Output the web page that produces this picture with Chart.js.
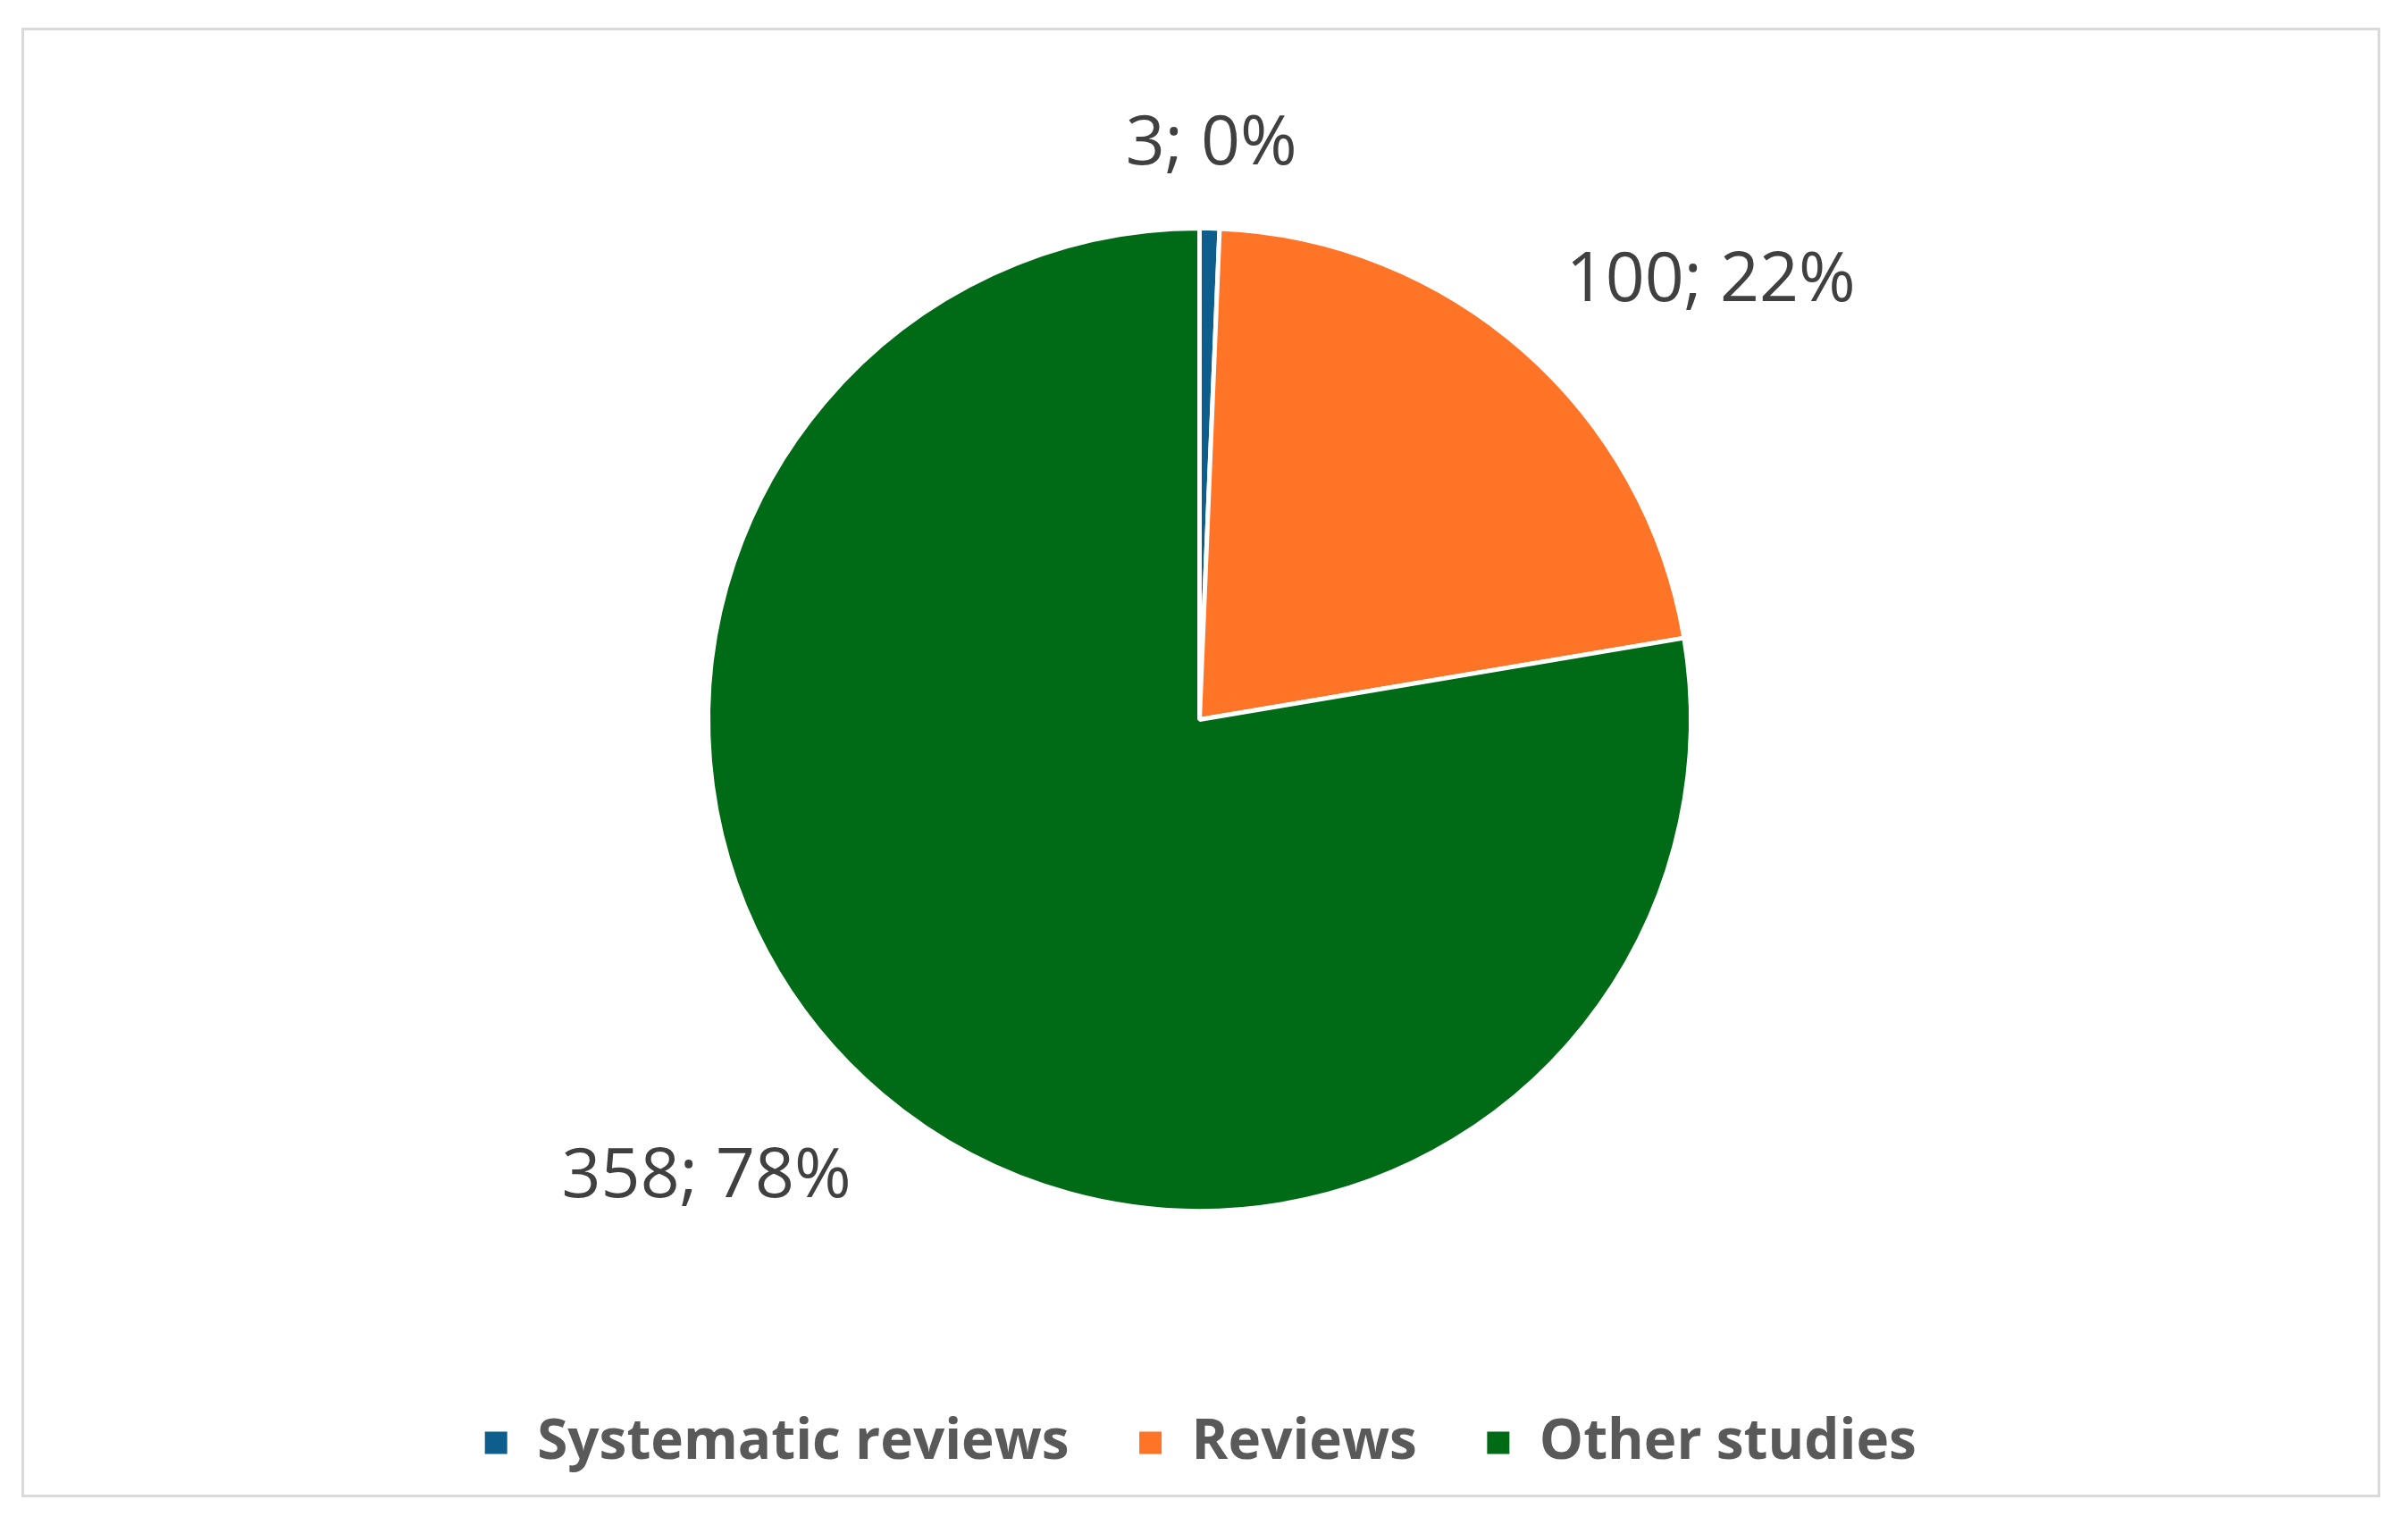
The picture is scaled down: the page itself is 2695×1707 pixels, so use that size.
<!DOCTYPE html>
<html lang="en">
<head>
<meta charset="UTF-8">
<title>Study types</title>
<script src="https://cdn.jsdelivr.net/npm/chart.js"></script>
<style>
  html, body { margin: 0; padding: 0; background: #fff; }
  #wrap { position: relative; width: 2695px; height: 1707px; }
  #frame { position: absolute; left: 24px; top: 31px; width: 2640px; height: 1645px; border: 3px solid #d9d9d9; box-sizing: border-box; pointer-events: none; }
</style>
</head>
<body>
<div id="wrap">
  <canvas id="pieChart" width="2695" height="1707"></canvas>
  <div id="frame"></div>
</div>
<script>
const categories = ['Systematic reviews', 'Reviews', 'Other studies'];
const counts = [3, 100, 358];
const percentLabels = ['0%', '22%', '78%'];
const colors = ['#0d5e8c', '#ff7427', '#006b17'];

// label placement: distance factor from centre and angular nudge (radians)
const labelDist = [1.17, 1.37, 1.37];
const labelNudge = [0.0, 0.14, 0.12];

const sliceLabels = {
  id: 'sliceLabels',
  afterDatasetsDraw(chart) {
    const ctx = chart.ctx;
    const arcs = chart.getDatasetMeta(0).data;
    ctx.save();
    ctx.font = '77px "Open Sans", sans-serif';
    ctx.fillStyle = '#404040';
    ctx.textAlign = 'center';
    ctx.textBaseline = 'middle';
    arcs.forEach((arc, i) => {
      const a = (arc.startAngle + arc.endAngle) / 2 + labelNudge[i];
      const r = arc.outerRadius * labelDist[i];
      const x = arc.x + Math.cos(a) * r;
      const y = arc.y + Math.sin(a) * r;
      ctx.fillText(counts[i] + '; ' + percentLabels[i], x, y);
    });
    ctx.restore();
  }
};

new Chart(document.getElementById('pieChart').getContext('2d'), {
  type: 'pie',
  data: {
    labels: categories,
    datasets: [{
      data: counts,
      backgroundColor: colors,
      borderColor: '#ffffff',
      borderWidth: 5,
      radius: 550
    }]
  },
  options: {
    responsive: false,
    animation: false,
    layout: { padding: { top: 103, bottom: 51, left: 0, right: 10 } },
    plugins: {
      tooltip: { enabled: false },
      legend: {
        position: 'bottom',
        labels: {
          boxWidth: 30,
          boxHeight: 30,
          padding: 76,
          color: '#595959',
          font: { family: '"Open Sans", sans-serif', size: 62, weight: 'bold' }
        }
      }
    }
  },
  plugins: [sliceLabels]
});
</script>
</body>
</html>
